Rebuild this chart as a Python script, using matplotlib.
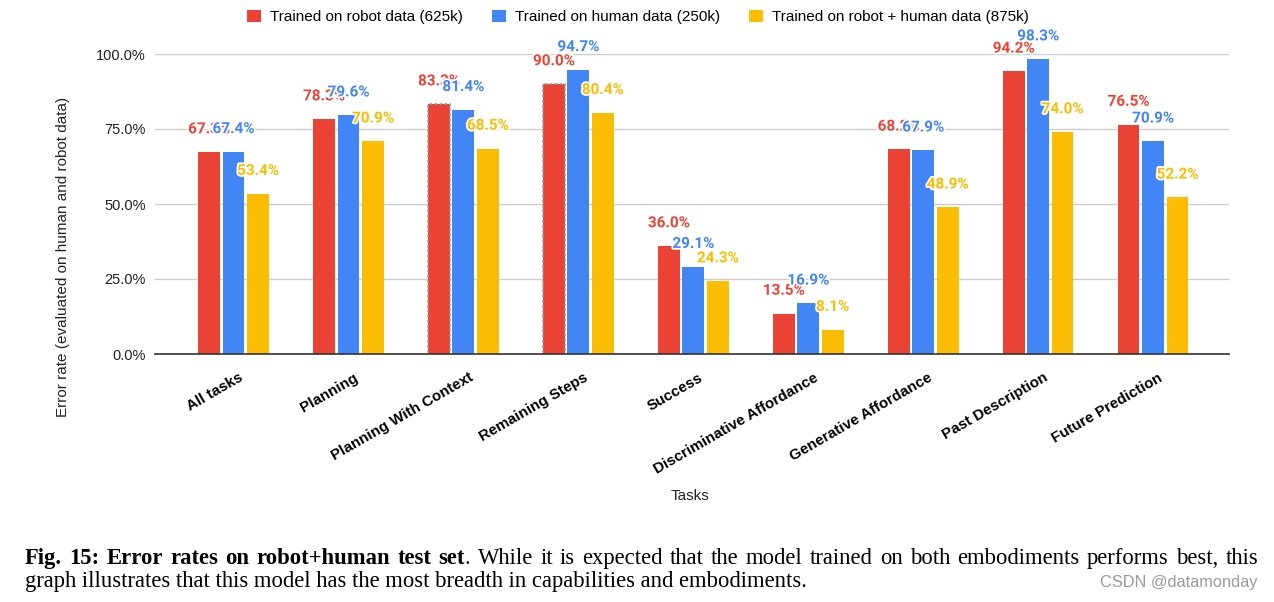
import matplotlib
matplotlib.use("Agg")
import matplotlib.pyplot as plt
import matplotlib.patheffects as pe
from matplotlib.patches import Patch
from matplotlib.transforms import ScaledTranslation
import numpy as np

# ---------------- data ----------------
tasks = ["All tasks", "Planning", "Planning With Context", "Remaining Steps",
         "Success", "Discriminative Affordance", "Generative Affordance",
         "Past Description", "Future Prediction"]
series_names = ["Trained on robot data (625k)",
                "Trained on human data (250k)",
                "Trained on robot + human data (875k)"]
robot = [67.3, 78.3, 83.3, 90.0, 36.0, 13.5, 68.2, 94.2, 76.5]
human = [67.4, 79.6, 81.4, 94.7, 29.1, 16.9, 67.9, 98.3, 70.9]
both = [53.4, 70.9, 68.5, 80.4, 24.3, 8.1, 48.9, 74.0, 52.2]
y_ticks = [0, 25, 50, 75, 100]
highlighted = ["Planning With Context", "Remaining Steps"]

colors = ["#EA4335", "#4285F4", "#FBBC04"]

W, H = 1274, 602
fig = plt.figure(figsize=(W / 100, H / 100), dpi=100)
fig.patch.set_facecolor("white")

# axes placement in pixels
ax_l, ax_r, ax_t, ax_b = 155, 1229, 54, 354
ax = fig.add_axes([ax_l / W, 1 - ax_b / H, (ax_r - ax_l) / W, (ax_b - ax_t) / H])

x = np.arange(len(tasks))
bw = 0.19
off = 0.213
series = [robot, human, both]
all_bars = []
for i, (vals, c) in enumerate(zip(series, colors)):
    bars = ax.bar(x + (i - 1) * off, vals, width=bw, color=c, zorder=2,
                  label=series_names[i])
    all_bars.append(bars)
    if i == 0:
        for t, b in zip(tasks, bars):
            if t in highlighted:
                b.set_edgecolor("#9a9a9a")
                b.set_linestyle((0, (1.5, 1.5)))
                b.set_linewidth(1.2)

# value labels
for i, (vals, c, bars) in enumerate(zip(series, colors, all_bars)):
    for v, b in zip(vals, bars):
        ax.annotate(f"{v:.1f}%", (b.get_x() + b.get_width() / 2, v),
                    xytext=(0, 13.5), textcoords="offset points",
                    ha="center", va="baseline", color=c, fontsize=11,
                    fontweight="bold", family="Roboto", zorder=5 + i,
                    annotation_clip=False,
                    path_effects=[pe.withStroke(linewidth=2.5, foreground="white")])

ax.set_ylim(0, 100)
ax.set_xlim(-0.683, 8.661)
ax.set_yticks(y_ticks)
ax.set_yticklabels([f"{v:.1f}%" for v in y_ticks], family="Liberation Sans",
                   fontsize=10.5, color="#222222")
ax.tick_params(axis="y", length=0, pad=6.5)
ax.grid(axis="y", color="#cccccc", linewidth=1, zorder=0)
ax.set_axisbelow(True)
for s in ["top", "right", "left"]:
    ax.spines[s].set_visible(False)
ax.spines["bottom"].set_color("#333333")
ax.spines["bottom"].set_linewidth(1.2)
ax.spines["bottom"].set_zorder(3)

ax.set_xticks(x)
ax.set_xticklabels(tasks, rotation=30, ha="right", va="top",
                   rotation_mode="anchor", fontsize=10.9, fontweight="bold",
                   family="Liberation Sans")
ax.tick_params(axis="x", length=0, pad=12)
for lab in ax.get_xticklabels():
    lab.set_transform(lab.get_transform() + ScaledTranslation(5 / 100, 0, fig.dpi_scale_trans))

ax.set_ylabel("Error rate (evaluated on human and robot data)",
              family="Liberation Sans", fontsize=11, color="#222222")
ax.yaxis.set_label_coords(-(ax_l - 70) / (ax_r - ax_l), (ax_b - 257) / (ax_b - ax_t))
ax.set_xlabel("Tasks", family="Liberation Sans", fontsize=11, color="#222222")
ax.xaxis.set_label_coords((690 - ax_l) / (ax_r - ax_l), -(489 - ax_b) / (ax_b - ax_t))

handles = [Patch(facecolor=c, edgecolor="none") for c in colors]
fig.legend(handles, series_names, loc="center", bbox_to_anchor=(638 / W, 1 - 17 / H),
           ncol=3, frameon=False, prop={"family": "Liberation Sans", "size": 11},
           handlelength=0.9, handleheight=0.9, handletextpad=0.6,
           columnspacing=1.9)

# ---------------- caption ----------------
renderer = fig.canvas.get_renderer()
cap_size = 16.3
serif = "Liberation Serif"
left_px, right_px = 25, 1258
line1_y, line2_y = 564, 587

bold_part = "Fig. 15: Error rates on robot+human test set"
rest1 = ". While it is expected that the model trained on both embodiments performs best, this"
line2 = "graph illustrates that this model has the most breadth in capabilities and embodiments."

def fig_xy(px, py):
    return px / W, 1 - py / H

tokens_pieces = [[(w, "bold")] for w in bold_part.split(" ")]
rest_words = rest1.split(" ")
tokens_pieces[-1].append((rest_words[0], "normal"))
for w in rest_words[1:]:
    tokens_pieces.append([(w, "normal")])

def measure(s, wt):
    t = fig.text(0, 0, s, fontsize=cap_size, family=serif, fontweight=wt)
    w = t.get_window_extent(renderer).width
    t.remove()
    return w

word_widths = [[measure(s, wt) for s, wt in pieces] for pieces in tokens_pieces]
total_words = sum(sum(ws) for ws in word_widths)
gap = (right_px - left_px - total_words) / (len(tokens_pieces) - 1)
cx = left_px
for pieces, ws in zip(tokens_pieces, word_widths):
    px = cx
    for (s, wt), w in zip(pieces, ws):
        fx, fy = fig_xy(px, line1_y)
        fig.text(fx, fy, s, fontsize=cap_size, family=serif, fontweight=wt,
                 ha="left", va="baseline", color="black")
        px += w
    cx = px + gap

fx, fy = fig_xy(left_px, line2_y)
fig.text(fx, fy, line2, fontsize=cap_size, family=serif, ha="left",
         va="baseline", color="black")

fx, fy = fig_xy(1258, line2_y)
fig.text(fx, fy, "CSDN @datamonday", fontsize=11.8, family="Liberation Sans",
         color="#9a9a9a", ha="right", va="baseline")

fig.savefig("out.png", dpi=100, facecolor="white")
